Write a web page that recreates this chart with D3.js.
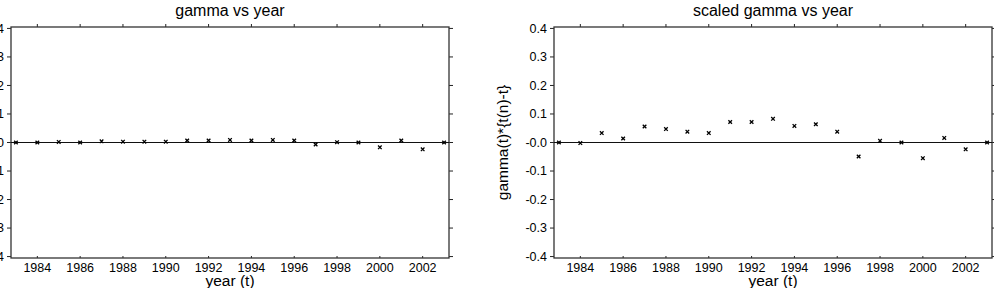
<!DOCTYPE html>
<html>
<head>
<meta charset="utf-8">
<script src="https://cdn.jsdelivr.net/npm/d3@7"></script>
<style>
  body { margin: 0; background: #fff; }
  svg { display: block; font-family: "Liberation Sans", Arial, sans-serif; }
</style>
</head>
<body>
<script>
// values
var years = [1983, 1984, 1985, 1986, 1987, 1988, 1989, 1990, 1991, 1992,
             1993, 1994, 1995, 1996, 1997, 1998, 1999, 2000, 2001, 2002, 2003]
var gamma = [0.000, 0.000, 0.002, 0.000, 0.004, 0.003, 0.003, 0.003, 0.007, 0.007,
             0.009, 0.007, 0.009, 0.007, -0.007, 0.001, 0.000, -0.017, 0.007, -0.024, 0.000]
var scaledGamma = [0.000, -0.002, 0.033, 0.014, 0.056, 0.047, 0.038, 0.033, 0.072, 0.072,
                   0.083, 0.058, 0.064, 0.038, -0.049, 0.006, 0.000, -0.055, 0.016, -0.024, 0.000]
var xTicks = [1984, 1986, 1988, 1990, 1992, 1994, 1996, 1998, 2000, 2002]
var yTicks = [0.4, 0.3, 0.2, 0.1, 0, -0.1, -0.2, -0.3, -0.4]
var yTickLabels = ['0.4', '0.3', '0.2', '0.1', '-0.0', '-0.1', '-0.2', '-0.3', '-0.4']

var W = 994, H = 288
var svg = d3.select('body').append('svg').attr('width', W).attr('height', H)

function panel(left, right, values, title, ylabel) {
    var top = 27, bottom = 258
    var x = d3.scaleLinear().domain([1982.77, 2003.23]).range([left, right])
    var y = d3.scaleLinear().domain([-0.405, 0.405]).range([bottom, top])
    var g = svg.append('g')
    var ink = '#222'

    // tick labels
    g.selectAll('text.xt').data(xTicks).enter().append('text')
        .attr('x', function (d) { return x(d) })
        .attr('y', 272)
        .attr('text-anchor', 'middle')
        .attr('font-size', 12.5)
        .text(function (d) { return d })

    g.selectAll('text.yt').data(yTicks).enter().append('text')
        .attr('x', left - 7)
        .attr('y', function (d) { return y(d) })
        .attr('dy', '.35em')
        .attr('text-anchor', 'end')
        .attr('font-size', 12.5)
        .text(function (d, i) { return yTickLabels[i] })

    // ticks: left/right/top outward, bottom inward
    g.selectAll('line.yl').data(yTicks).enter().append('line')
        .attr('x1', left - 4).attr('x2', left)
        .attr('y1', function (d) { return y(d) }).attr('y2', function (d) { return y(d) })
        .attr('stroke', ink)
    g.selectAll('line.yr').data(yTicks).enter().append('line')
        .attr('x1', right).attr('x2', right + 4)
        .attr('y1', function (d) { return y(d) }).attr('y2', function (d) { return y(d) })
        .attr('stroke', ink)
    g.selectAll('line.xtop').data(xTicks).enter().append('line')
        .attr('x1', function (d) { return x(d) }).attr('x2', function (d) { return x(d) })
        .attr('y1', top - 3).attr('y2', top)
        .attr('stroke', ink)
    g.selectAll('line.xbot').data(xTicks).enter().append('line')
        .attr('x1', function (d) { return x(d) }).attr('x2', function (d) { return x(d) })
        .attr('y1', bottom).attr('y2', bottom - 2)
        .attr('stroke', ink)

    // frame
    g.append('rect')
        .attr('x', left).attr('y', top)
        .attr('width', right - left).attr('height', bottom - top)
        .attr('fill', 'none').attr('stroke', '#333').attr('stroke-width', 1.3)

    // zero line
    g.append('line')
        .attr('x1', left).attr('x2', right)
        .attr('y1', y(0)).attr('y2', y(0))
        .attr('stroke', '#111').attr('stroke-width', 1.2)

    // x markers
    var s = 1.8
    g.selectAll('path.pt').data(years).enter().append('path')
        .attr('transform', function (d, i) { return 'translate(' + x(d) + ',' + y(values[i]) + ')' })
        .attr('d', 'M' + -s + ',' + -s + 'L' + s + ',' + s + 'M' + -s + ',' + s + 'L' + s + ',' + -s)
        .attr('stroke', '#000').attr('stroke-width', 1.3).attr('fill', 'none')

    // titles
    g.append('text')
        .attr('x', (left + right) / 2).attr('y', 16)
        .attr('text-anchor', 'middle').attr('font-size', 16)
        .text(title)
    g.append('text')
        .attr('x', (left + right) / 2).attr('y', 286)
        .attr('text-anchor', 'middle').attr('font-size', 15.5)
        .text('year (t)')
    if (ylabel) {
        g.append('text')
            .attr('transform', 'translate(' + (left - 46) + ',' + ((top + bottom) / 2) + ') rotate(-90)')
            .attr('text-anchor', 'middle').attr('font-size', 15.5)
            .text(ylabel)
    }
}

panel(11, 449, gamma, 'gamma vs year', 'gamma(t)')
panel(554, 992, scaledGamma, 'scaled gamma vs year', 'gamma(t)*{t(n)-t}')
</script>
</body>
</html>
